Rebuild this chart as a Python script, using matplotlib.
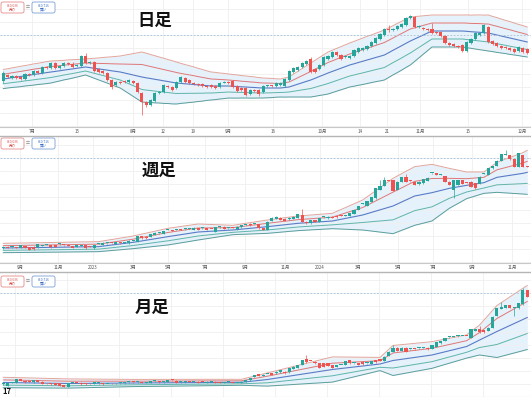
import matplotlib
matplotlib.use("Agg")
import matplotlib.pyplot as plt
import numpy as np
from matplotlib.patches import FancyBboxPatch

plt.rcParams['font.family'] = ['Noto Sans CJK JP', 'DejaVu Sans']

# ---- 日足 (daily) ----
d_open = [10190, 10250, 10220, 10240, 10230, 10210, 10260, 10255, 10290, 10270,
          10330, 10325, 10370, 10320, 10340, 10370, 10365, 10340, 10345, 10440,
          10375, 10380, 10310, 10290, 10270, 10200, 10150, 10180, 10190, 10180,
          10190, 10170, 10070, 9980, 9950, 9990, 10075, 10080, 10140, 10130,
          10120, 10180, 10220, 10200, 10170, 10160, 10160, 10140, 10150, 10140,
          10130, 10175, 10180, 10190, 10140, 10120, 10120, 10060, 10100, 10100,
          10080, 10140, 10145, 10140, 10150, 10140, 10200, 10280, 10300, 10330,
          10360, 10410, 10310, 10310, 10350, 10410, 10430, 10480, 10450, 10430,
          10420, 10440, 10480, 10500, 10510, 10540, 10570, 10610, 10650, 10710,
          10705, 10710, 10730, 10750, 10820, 10830, 10730, 10720, 10710, 10710,
          10680, 10680, 10640, 10570, 10560, 10540, 10550, 10490, 10570, 10610,
          10650, 10670, 10730, 10590, 10570, 10540, 10530, 10520, 10510, 10490,
          10520, 10510]
d_close = [10270, 10230, 10240, 10220, 10210, 10260, 10255, 10290, 10270, 10330,
           10325, 10370, 10320, 10340, 10370, 10365, 10330, 10345, 10440, 10370,
           10380, 10290, 10280, 10270, 10200, 10130, 10180, 10175, 10185, 10200,
           10170, 10080, 9980, 9950, 10000, 10070, 10080, 10150, 10130, 10100,
           10180, 10230, 10180, 10170, 10165, 10155, 10140, 10135, 10130, 10120,
           10170, 10180, 10175, 10130, 10090, 10100, 10050, 10100, 10095, 10060,
           10140, 10145, 10140, 10170, 10170, 10210, 10290, 10320, 10330, 10370,
           10390, 10280, 10280, 10350, 10430, 10440, 10480, 10450, 10410, 10435,
           10440, 10500, 10520, 10520, 10540, 10580, 10620, 10660, 10710, 10705,
           10710, 10740, 10760, 10820, 10840, 10730, 10740, 10715, 10705, 10670,
           10675, 10640, 10570, 10550, 10540, 10535, 10490, 10580, 10610, 10670,
           10670, 10750, 10580, 10560, 10540, 10520, 10525, 10500, 10480, 10530,
           10480, 10470]
d_high = [10290, 10260, 10250, 10250, 10240, 10270, 10275, 10300, 10300, 10340,
          10345, 10380, 10385, 10350, 10380, 10385, 10380, 10360, 10450, 10470,
          10395, 10390, 10320, 10300, 10280, 10210, 10190, 10195, 10200, 10210,
          10200, 10180, 10080, 9990, 10010, 10080, 10095, 10160, 10150, 10140,
          10190, 10240, 10230, 10210, 10180, 10170, 10170, 10150, 10160, 10150,
          10180, 10190, 10190, 10200, 10150, 10130, 10130, 10110, 10110, 10110,
          10150, 10155, 10155, 10180, 10180, 10220, 10300, 10330, 10340, 10380,
          10400, 10430, 10320, 10360, 10440, 10450, 10490, 10490, 10460, 10445,
          10450, 10510, 10530, 10530, 10550, 10590, 10630, 10670, 10720, 10750,
          10725, 10750, 10770, 10830, 10850, 10845, 10750, 10730, 10720, 10770,
          10690, 10690, 10650, 10580, 10570, 10550, 10560, 10590, 10620, 10680,
          10680, 10760, 10740, 10600, 10580, 10550, 10540, 10530, 10520, 10540,
          10530, 10520]
d_low = [10170, 10220, 10210, 10210, 10200, 10200, 10245, 10245, 10260, 10260,
         10315, 10315, 10310, 10310, 10330, 10355, 10320, 10330, 10335, 10360,
         10365, 10280, 10270, 10260, 10190, 10110, 10140, 10165, 10175, 10170,
         10160, 10070, 9850, 9930, 9940, 9980, 10065, 10070, 10120, 10090,
         10110, 10170, 10170, 10160, 10155, 10145, 10130, 10125, 10120, 10110,
         10120, 10170, 10165, 10120, 10080, 10090, 10040, 10050, 10085, 10040,
         10070, 10130, 10130, 10130, 10140, 10130, 10190, 10270, 10290, 10320,
         10350, 10270, 10270, 10300, 10340, 10400, 10420, 10440, 10400, 10420,
         10410, 10430, 10470, 10490, 10500, 10530, 10560, 10600, 10640, 10680,
         10695, 10700, 10720, 10740, 10810, 10720, 10720, 10705, 10695, 10660,
         10665, 10630, 10560, 10540, 10530, 10525, 10480, 10480, 10560, 10600,
         10640, 10660, 10570, 10550, 10530, 10510, 10515, 10490, 10470, 10480,
         10470, 10460]
d_mid = [10210, 10216, 10223, 10229, 10235, 10242, 10248, 10255, 10261, 10267, 10274, 10280,
         10286, 10292, 10299, 10305, 10311, 10317, 10324, 10330,
         10324, 10317, 10311, 10305, 10299, 10292, 10286, 10280,
         10270, 10260, 10250, 10240, 10230,
         10222, 10215, 10207, 10200, 10192, 10185, 10177, 10170,
         10166, 10162, 10159, 10155, 10151, 10147, 10144, 10140,
         10140, 10140, 10140, 10140,
         10137, 10135, 10132, 10130, 10127, 10125, 10122, 10120,
         10120, 10120, 10120, 10120, 10125, 10130,
         10144, 10158, 10172, 10186, 10200,
         10217, 10235, 10252, 10270,
         10286, 10302, 10318, 10334, 10350,
         10362, 10375, 10387, 10400, 10412, 10425, 10437, 10450,
         10473, 10497, 10520, 10543, 10567, 10590,
         10610, 10630, 10650, 10670, 10690,
         10690, 10690, 10690, 10690, 10690, 10690, 10690,
         10687, 10683, 10680, 10677, 10673, 10670,
         10660, 10650, 10640, 10630, 10620, 10610, 10600, 10590, 10580]
d_sd = [48, 48, 49, 50, 51, 51, 52, 53, 53, 54, 55, 55,
        53, 51, 49, 48, 46, 44, 42, 40,
        45, 50, 55, 60, 65, 70, 75, 80,
        89, 98, 107, 116, 125,
        123, 120, 118, 115, 113, 110, 108, 105,
        100, 96, 92, 88, 83, 79, 74, 70,
        68, 65, 63, 60,
        59, 58, 56, 55, 54, 53, 51, 50,
        49, 48, 46, 45, 48, 50,
        57, 64, 71, 78, 85,
        90, 95, 100, 105,
        106, 107, 108, 109, 110,
        112, 114, 116, 118, 119, 121, 123, 125,
        124, 123, 123, 122, 121, 120,
        112, 104, 96, 88, 80,
        80, 80, 80, 80, 80, 80, 80,
        82, 83, 85, 87, 88, 90,
        88, 87, 85, 83, 82, 80, 78, 77, 75]
d_tick_pos = [6.6, 17.0, 30.0, 36.9, 43.8, 51.9, 62.3, 73.6, 82.4, 88.6, 96.2, 107.3, 119.8]
d_tick_lab = ['7月', '15', '8月', '12', '19', '9月', '16', '10月', '14', '21', '11月', '15', '12月']

# ---- 週足 (weekly) ----
w_open = [6130, 6220, 6180, 6170, 6170, 6250, 6180, 6220, 6180, 6270,
          6300, 6300, 6300, 6330, 6290, 6270, 6250, 6220, 6270, 6300,
          6220, 6130, 6350, 6300, 6380, 6390, 6350, 6390, 6415, 6380,
          6520, 6470, 6750, 6720, 6720, 6800, 6880, 6850, 7050, 7020,
          7050, 7060, 7080, 7100, 7050, 7130, 7130, 7130, 7100, 6970,
          7180, 7220, 7130, 7170, 7080, 7180, 7300, 7310, 7350, 7350,
          7130, 7050, 7520, 7620, 7670, 7620, 7580, 7600, 7670, 7800,
          7470, 7380, 7550, 7470, 7680, 7630, 7720, 7750, 7770, 7765,
          7770, 7850, 8050, 8350, 8270, 8470, 8630, 9050, 9270, 9520,
          9550, 9050, 9470, 9680, 9500, 9470, 9330, 9380, 9500, 9880,
          9880, 9800, 9750, 9470, 9050, 9300, 9550, 9420, 9470, 9380,
          9350, 9850, 9800, 10130, 10250, 10520, 10800, 10800, 10580, 10220,
          10800, 10220]
w_close = [6220, 6170, 6190, 6160, 6300, 6170, 6050, 6080, 6330, 6280,
           6310, 6180, 6220, 6340, 6280, 6265, 6170, 6300, 6280, 6130,
           6210, 6300, 6360, 6420, 6390, 6380, 6430, 6385, 6420, 6520,
           6530, 6750, 6630, 6630, 6850, 6920, 6890, 7000, 7060, 7010,
           7060, 7050, 7090, 7110, 7170, 7050, 7135, 7050, 7095, 7180,
           7190, 7120, 7135, 7165, 7220, 7300, 7310, 7300, 7360, 7130,
           7050, 7470, 7670, 7720, 7550, 7520, 7670, 7720, 7830, 7470,
           7380, 7550, 7470, 7630, 7690, 7720, 7670, 7680, 7765, 7770,
           7880, 8050, 8250, 8360, 8500, 8680, 9130, 9270, 9550, 9510,
           9020, 9470, 9680, 9470, 9490, 9300, 9470, 9580, 9670, 9890,
           9800, 9805, 9470, 9300, 9550, 9550, 9350, 9415, 9220, 9130,
           9720, 9855, 10130, 10250, 10520, 10830, 10810, 10580, 10220, 10880,
           10220, 10210]
w_high = [6240, 6240, 6210, 6190, 6320, 6270, 6200, 6240, 6350, 6300,
          6330, 6320, 6320, 6360, 6310, 6290, 6270, 6320, 6300, 6320,
          6240, 6320, 6380, 6440, 6410, 6410, 6450, 6410, 6440, 6540,
          6550, 6770, 6770, 6740, 6870, 6940, 6910, 7020, 7080, 7040,
          7080, 7080, 7110, 7130, 7190, 7150, 7160, 7150, 7120, 7200,
          7210, 7240, 7160, 7190, 7240, 7320, 7330, 7380, 7380, 7370,
          7150, 7490, 7690, 7740, 7690, 7640, 7690, 7740, 7860, 8080,
          7490, 7570, 7570, 7650, 7710, 7740, 7740, 7770, 7790, 7790,
          7900, 8070, 8270, 8380, 8520, 8700, 9150, 9550, 9680, 9540,
          9570, 9490, 9700, 9830, 9520, 9490, 9490, 9600, 9690, 9910,
          9900, 9830, 9770, 9490, 9570, 9570, 9570, 9440, 9490, 9400,
          9740, 9880, 10150, 10270, 10540, 10850, 11050, 10820, 10600, 10900,
          10820, 10250]
w_low = [6110, 6150, 6160, 6140, 6150, 6150, 6030, 6060, 6160, 6250,
         6280, 6160, 6200, 6310, 6260, 6250, 6150, 6200, 6250, 6110,
         6190, 6110, 6330, 6280, 6360, 6360, 6330, 6360, 6395, 6360,
         6500, 6450, 6610, 6610, 6700, 6780, 6860, 6830, 7030, 6990,
         7030, 7030, 7060, 7080, 7030, 7030, 7110, 7030, 7080, 6950,
         7160, 7100, 7110, 7150, 7060, 7160, 7280, 7250, 7330, 7110,
         7030, 7030, 7500, 7600, 7530, 7500, 7560, 7580, 7650, 7450,
         7360, 7360, 7450, 7450, 7660, 7610, 7650, 7660, 7750, 7750,
         7750, 7830, 8030, 8330, 8250, 8450, 8610, 9030, 9250, 9490,
         9000, 9030, 9450, 9450, 9470, 9280, 9310, 9360, 9480, 9860,
         9780, 9780, 9450, 9280, 8630, 9280, 9330, 9400, 9200, 9110,
         9330, 9830, 9780, 10110, 10230, 10500, 10780, 10560, 10200, 10200,
         10200, 10190]
w_mid = [6150, 6153, 6156, 6159, 6162, 6165, 6168, 6171, 6174, 6177, 6180, 6183,
         6186, 6189, 6192, 6196, 6199, 6202, 6205, 6208, 6211, 6214, 6217,
         6244, 6271, 6298, 6325, 6352, 6379, 6406, 6433,
         6469, 6504, 6540, 6575, 6611, 6646, 6682, 6717,
         6750, 6783, 6817, 6850, 6883, 6917, 6950,
         6963, 6975, 6988, 7000, 7013, 7025, 7038, 7050,
         7071, 7092, 7113, 7133, 7154, 7175, 7196, 7217,
         7241, 7264, 7288, 7312, 7336, 7359, 7383,
         7398, 7412, 7427, 7442, 7456, 7471, 7485, 7500,
         7543, 7586, 7629, 7671, 7714, 7757, 7800,
         7864, 7929, 7993, 8057, 8121, 8186, 8250,
         8350, 8450, 8550, 8650, 8750,
         8792, 8833, 8875, 8917,
         8971, 9025, 9079, 9133,
         9171, 9208, 9246, 9283,
         9317, 9350, 9384, 9417,
         9506, 9594, 9683,
         9716, 9750, 9783, 9816, 9850, 9883,
         9933]
w_sd = [117, 117, 118, 118, 118, 119, 119, 120, 120, 120, 121, 121,
        122, 122, 122, 123, 123, 123, 124, 124, 124, 125, 125,
        129, 133, 137, 141, 146, 150, 154, 158,
        164, 171, 177, 183, 189, 196, 202, 208,
        207, 206, 205, 204, 203, 201, 200,
        190, 179, 169, 158, 148, 138, 127, 117,
        123, 129, 136, 142, 148, 154, 161, 167,
        169, 172, 174, 176, 178, 181, 183,
        184, 185, 186, 187, 189, 190, 191, 192,
        218, 244, 270, 296, 323, 349, 375,
        420, 465, 510, 556, 601, 646, 692,
        700, 708, 717, 725, 733,
        727, 721, 714, 708,
        656, 604, 552, 500,
        458, 417, 375, 333,
        317, 300, 284, 267,
        303, 339, 375,
        399, 422, 446, 470, 493, 517,
        550]
w_tick_pos = [3.9, 12.6, 20.7, 30.0, 38.0, 46.6, 55.8, 65.1, 73.1, 81.9, 91.2, 99.2, 108.2, 117.5]
w_tick_lab = ['9月', '11月', '2023', '3月', '5月', '7月', '9月', '11月', '2024', '3月', '5月', '7月', '9月', '11月']

# ---- 月足 (monthly) ----
m_open = [1550, 1383, 1683, 1683, 2017, 1850, 1783, 1717, 1950, 1783,
          1617, 1617, 1617, 1617, 1450, 1283, 1683, 1690, 1683, 1617,
          1617, 1583, 1617, 1617, 1550, 1617, 1610, 1617, 1617, 1717,
          1720, 1717, 1750, 1683, 1683, 1817, 1817, 1717, 1750, 1917,
          1883, 1717, 1717, 1817, 1750, 1783, 1750, 1683, 1780, 1783,
          1690, 1683, 1750, 1750, 1650, 1650, 1783, 1917, 2283, 2517,
          2350, 2550, 2617, 2617, 2717, 2783, 2717, 3050, 3183, 3450,
          4050, 3850, 3783, 3617, 3617, 3617, 3450, 3283, 3450, 3450,
          3950, 3617, 3617, 3783, 3617, 3583, 3950, 4017, 3850, 4350,
          4783, 5183, 4850, 5183, 5017, 5020, 5117, 5183, 5183, 5050,
          5283, 5617, 5850, 6217, 6283, 6317, 6350, 6350, 6183, 6850,
          7050, 6950, 6850, 7183, 8383, 9050, 9183, 9450, 9117, 9117,
          9517, 10950]
m_close = [1650, 1617, 1690, 2017, 1850, 1717, 1775, 1950, 1783, 1550,
           1610, 1517, 1450, 1350, 1283, 1617, 1690, 1683, 1517, 1517,
           1610, 1717, 1620, 1517, 1555, 1610, 1617, 1620, 1750, 1720,
           1717, 1720, 1683, 1690, 1850, 1820, 1717, 1720, 1950, 1915,
           1683, 1720, 1817, 1750, 1755, 1683, 1745, 1783, 1785, 1683,
           1685, 1750, 1755, 1650, 1655, 1783, 1917, 2117, 2450, 2350,
           2500, 2560, 2450, 2783, 2950, 2617, 3117, 3283, 3450, 3950,
           3717, 3845, 3617, 3183, 3283, 3383, 3183, 3450, 3455, 3850,
           3617, 3620, 3450, 3517, 3620, 3850, 3717, 3850, 4283, 4783,
           5183, 4850, 5183, 4783, 5020, 5017, 5120, 5185, 5017, 5450,
           5717, 5850, 6117, 6220, 6285, 6320, 6355, 6345, 7050, 7050,
           6717, 6717, 7183, 8283, 9117, 9283, 9450, 9183, 9120, 9617,
           10950, 10283]
m_high = [1700, 1650, 1730, 2060, 2080, 1880, 1820, 1990, 1990, 1810,
          1650, 1650, 1650, 1640, 1480, 1650, 1720, 1720, 1710, 1640,
          1650, 1750, 1650, 1640, 1590, 1650, 1650, 1650, 1780, 1750,
          1750, 1750, 1780, 1720, 1880, 1850, 1840, 1750, 1980, 1950,
          1910, 1750, 1850, 1840, 1790, 1810, 1780, 1810, 1810, 1810,
          1720, 1780, 1780, 1780, 1690, 1810, 1950, 2150, 2490, 2550,
          2540, 2600, 2650, 2820, 2990, 2820, 3150, 3320, 3490, 3990,
          4450, 3890, 3820, 3650, 3650, 3650, 3490, 3490, 3490, 3890,
          3990, 3650, 3650, 3820, 3650, 3890, 3990, 4050, 4320, 4820,
          5450, 5220, 5220, 5220, 5060, 5060, 5160, 5220, 5220, 5490,
          5750, 5890, 6150, 6260, 6320, 6360, 6390, 6390, 7090, 7090,
          7350, 6990, 7220, 8320, 9150, 9783, 9490, 9490, 9160, 9650,
          11200, 10990]
m_low = [1500, 1350, 1650, 1650, 1820, 1680, 1740, 1690, 1750, 1510,
         1580, 1480, 1420, 1320, 1250, 1250, 1650, 1650, 1490, 1490,
         1580, 1560, 1590, 1490, 1520, 1580, 1580, 1590, 1590, 1690,
         1690, 1690, 1650, 1650, 1650, 1790, 1690, 1690, 1720, 1880,
         1650, 1690, 1690, 1720, 1720, 1650, 1720, 1660, 1750, 1660,
         1660, 1660, 1720, 1620, 1620, 1620, 1750, 1890, 2250, 2320,
         2320, 2510, 2420, 2590, 2690, 2590, 2690, 3020, 3150, 3420,
         3680, 3810, 3590, 3150, 3250, 3350, 3150, 3250, 3420, 3420,
         3590, 3590, 3420, 3490, 3590, 3550, 3690, 3820, 3820, 4320,
         4750, 4820, 4820, 4750, 4980, 4980, 5080, 5150, 4980, 5020,
         5250, 5590, 5820, 6180, 6250, 6280, 6320, 6310, 6150, 6820,
         6680, 6680, 6820, 7150, 8350, 9020, 9150, 9150, 8383, 9080,
         9480, 10250]
m_mid = [1700, 1693, 1687, 1680, 1673, 1667, 1660, 1653, 1647, 1640, 1633, 1627, 1620, 1613, 1607, 1600,
         1603, 1607, 1610, 1613, 1617, 1620, 1623, 1627, 1630, 1633, 1637, 1640, 1643, 1647, 1650,
         1653, 1656, 1658, 1661, 1664, 1667, 1670, 1672, 1675, 1678, 1681, 1684, 1686, 1689, 1692,
         1695, 1698, 1700, 1703, 1706, 1709, 1712, 1714, 1717, 1720,
         1767, 1813, 1860, 1907, 1953, 2000,
         2067, 2133, 2200, 2267, 2333, 2400, 2467, 2533, 2600, 2667, 2733, 2800, 2867, 2933, 3000,
         3050, 3100, 3150, 3200, 3250, 3300, 3350, 3400, 3450, 3500, 3550,
         3667, 3783, 3900,
         3961, 4022, 4083, 4144, 4206, 4267, 4328, 4389, 4450,
         4556, 4663, 4769, 4875, 4981, 5088, 5194, 5300,
         5517, 5733, 5950,
         6163, 6375, 6588, 6800,
         7000, 7200, 7400, 7600, 7800, 8000,
         8200]
m_sd = [260, 258, 256, 254, 252, 250, 248, 246, 244, 242, 240, 238, 236, 234, 232, 230,
        227, 223, 220, 217, 213, 210, 207, 203, 200, 197, 193, 190, 187, 183, 180,
        179, 178, 176, 175, 174, 173, 172, 170, 169, 168, 167, 166, 164, 163, 162,
        161, 160, 158, 157, 156, 155, 154, 152, 151, 150,
        180, 210, 240, 270, 300, 330,
        350, 370, 390, 410, 430, 450, 470, 490, 510, 530, 550, 570, 590, 610, 630,
        603, 575, 548, 521, 494, 466, 439, 412, 385, 357, 330,
        470, 610, 750,
        741, 732, 722, 713, 704, 695, 686, 676, 667,
        656, 645, 634, 623, 613, 602, 591, 580,
        637, 693, 750,
        888, 1025, 1163, 1300,
        1343, 1387, 1430, 1473, 1517, 1560,
        1600]
m_year_grid = [2.7, 14.7, 26.7, 38.7, 50.7, 62.7, 74.7, 86.7, 98.7, 110.7]

bid, ask = '¥10,636', '¥10,716'
last_line = 10650

W, H = 531, 397
GREEN, RED = '#26a69a', '#ef5350'

fig = plt.figure(figsize=(W / 100, H / 100), dpi=100)
fig.patch.set_facecolor('white')


def panel(top, bottom, ylim, step, o, h, l, c, mid, sd, tpos, tlab, vgrid):
    ax = fig.add_axes([0, 1 - bottom / H, 1, (bottom - top) / H])
    o, h, l, c = map(np.asarray, (o, h, l, c))
    mid, sd = np.asarray(mid, float), np.asarray(sd, float)
    x = np.arange(len(c))
    per_px = (ylim[1] - ylim[0]) / (bottom - top)

    # grid (ticks first, limits afterwards so the ticks cannot widen the view)
    yt = np.arange(last_line - 20 * step, ylim[1], step)
    ax.set_yticks(yt[yt > ylim[0]])
    ax.set_xticks(vgrid)
    ax.set_xlim(-0.76, 121.87)
    ax.set_ylim(*ylim)
    ax.grid(True, color='#efefef', lw=0.6, zorder=0)
    ax.tick_params(left=False, labelleft=False, bottom=False, labelbottom=False)
    for s in ['top', 'left', 'right']:
        ax.spines[s].set_visible(False)
    ax.spines['bottom'].set_color('#c8c8c8')
    ax.spines['bottom'].set_linewidth(0.8)

    # bollinger bands
    ax.fill_between(x, mid - 2 * sd, mid + 2 * sd, color='#e5f1fb', lw=0, zorder=1)
    ax.plot(x, mid + 2 * sd, color='#e2a59c', lw=0.7, zorder=2)
    ax.plot(x, mid + sd, color='#e07777', lw=0.7, zorder=2)
    ax.plot(x, mid, color='#5a7cc6', lw=0.8, zorder=2)
    ax.plot(x, mid - sd, color='#5fb5aa', lw=0.7, zorder=2)
    ax.plot(x, mid - 2 * sd, color='#5a9e9c', lw=0.7, zorder=2)

    ax.axhline(last_line, color='#9fc0dd', lw=0.6, ls=(0, (2, 2)), zorder=2)

    # candles
    cols = np.where(c >= o, GREEN, RED)
    ax.vlines(x, l, h, colors=cols, lw=0.5, zorder=3)
    body = np.maximum(np.abs(c - o), 0.9 * per_px)
    ax.bar(x, body, bottom=np.minimum(o, c), width=0.72, color=cols, lw=0, zorder=4)

    if tpos:
        sec = ax.secondary_xaxis('bottom')
        sec.set_xticks(tpos)
        sec.set_xticklabels(tlab)
        sec.tick_params(length=0, labelsize=3.2, labelcolor='#555555', pad=1.5)
        sec.spines['bottom'].set_visible(False)
    ax.set_xlim(-0.76, 121.87)
    ax.set_ylim(*ylim)
    return ax


panel(0, 127, (9730, 11000), 130, d_open, d_high, d_low, d_close, d_mid, d_sd,
      d_tick_pos, d_tick_lab, d_tick_pos)
panel(137, 263, (5400, 11700), 650, w_open, w_high, w_low, w_close, w_mid, w_sd,
      w_tick_pos, w_tick_lab, w_tick_pos)
panel(273, 397, (250, 12650), 1300, m_open, m_high, m_low, m_close, m_mid, m_sd,
      None, None, m_year_grid)

# overlay in pixel coordinates
ov = fig.add_axes([0, 0, 1, 1])
ov.set_xlim(0, W)
ov.set_ylim(H, 0)
ov.axis('off')
ov.patch.set_alpha(0)

for y in [135.5, 271.5]:
    ov.plot([0, W], [y, y], color='#b5b5b5', lw=1.0)

titles = ['日足', '週足', '月足']
title_y = [21, 171, 308]
title_x = [155, 159, 152]
btn_top = [2, 138, 276]
for t, tx, ty, bt in zip(titles, title_x, title_y, btn_top):
    ov.text(tx, ty, t, ha='center', va='center', fontsize=12.5,
            fontweight='bold', color='#111111')
    ov.add_patch(FancyBboxPatch((1, bt), 23, 11, boxstyle='round,pad=0,rounding_size=2',
                                fc='white', ec='#e58a8a', lw=0.6))
    ov.text(12.5, bt + 3.6, bid, ha='center', va='center', fontsize=2.4, color='#d9534f')
    ov.text(12.5, bt + 7.8, '売り', ha='center', va='center', fontsize=2.6, color='#d9534f')
    ov.text(28, bt + 5.5, '⇄', ha='center', va='center', fontsize=2.8, color='#888888')
    ov.add_patch(FancyBboxPatch((32, bt), 23, 11, boxstyle='round,pad=0,rounding_size=2',
                                fc='white', ec='#7d9fd6', lw=0.6))
    ov.text(43.5, bt + 3.6, ask, ha='center', va='center', fontsize=2.4, color='#3b6fc4')
    ov.text(43.5, bt + 7.8, '買い', ha='center', va='center', fontsize=2.6, color='#3b6fc4')

ov.text(2, 396, '17', ha='left', va='bottom', fontsize=5.5, fontweight='bold', color='#111111')

fig.savefig('out.png', dpi=100, facecolor='white')
